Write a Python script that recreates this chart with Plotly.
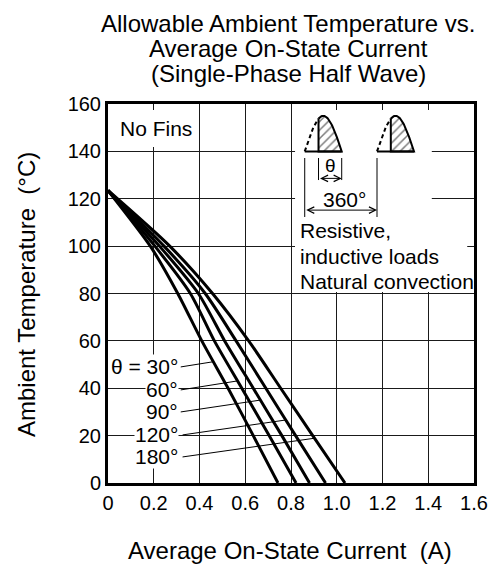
import numpy as np
import plotly.graph_objects as go

# ---------------- data ----------------
temps = [123.5, 100, 80, 60, 40, 20, 0]
current_30 = [0, 0.185, 0.305, 0.41, 0.525, 0.635, 0.743]
current_60 = [0, 0.205, 0.36, 0.465, 0.585, 0.705, 0.822]
current_90 = [0, 0.225, 0.395, 0.51, 0.635, 0.76, 0.881]
current_120 = [0, 0.245, 0.425, 0.56, 0.69, 0.82, 0.951]
current_180 = [0, 0.27, 0.457, 0.615, 0.755, 0.895, 1.036]
angle_labels = ["θ = 30°", "60°", "90°", "120°", "180°"]
label_temps = [49.0, 39.3, 30.0, 20.3, 11.0]
leader_temps = [51.2, 43.1, 35.0, 26.6, 18.9]
x_ticks = [0, 0.2, 0.4, 0.6, 0.8, 1.0, 1.2, 1.4, 1.6]
x_tick_text = ["0", "0.2", "0.4", "0.6", "0.8", "1.0", "1.2", "1.4", "1.6"]
y_ticks = [0, 20, 40, 60, 80, 100, 120, 140, 160]
y_tick_text = [str(v) for v in y_ticks]

series = [current_30, current_60, current_90, current_120, current_180]

FONT = "Liberation Sans, Arial, sans-serif"
fig = go.Figure()

for cur in series:
    fig.add_trace(go.Scatter(x=cur, y=temps, mode="lines",
                             line=dict(color="black", width=3, shape="spline", smoothing=0.7),
                             hoverinfo="skip", showlegend=False))

# ---------------- inset waveform schematic ----------------
base = 140
amp = 15
width = 0.1617
starts = [0.860, 1.176]
theta_frac = 0.373
for s in starts:
    ph_d = np.linspace(0, theta_frac * np.pi, 20)
    ph_s = np.linspace(theta_frac * np.pi, np.pi, 40)
    xd = s + ph_d / np.pi * width
    yd = base + amp * np.sin(ph_d)
    xs = s + ph_s / np.pi * width
    ys = base + amp * np.sin(ph_s)
    fig.add_trace(go.Scatter(x=list(xs) + [xs[-1], xs[0], xs[0]],
                             y=list(ys) + [base, base, ys[0]],
                             mode="lines", fill="toself",
                             fillcolor="white",
                             fillpattern=dict(shape="/", size=6, solidity=0.25,
                                              fgcolor="black", bgcolor="white"),
                             line=dict(color="black", width=2),
                             hoverinfo="skip", showlegend=False))
    fig.add_trace(go.Scatter(x=xd, y=yd, mode="lines",
                             line=dict(color="black", width=2, dash="4px,3px"),
                             hoverinfo="skip", showlegend=False))
    fig.add_trace(go.Scatter(x=[s, s + width], y=[base, base], mode="lines",
                             line=dict(color="black", width=2),
                             hoverinfo="skip", showlegend=False))

shapes = []
white_rects = [
    (0.8177, 1.4155, 80.6, 157.5),
    (0.8177, 1.5704, 80.6, 110.2),
    (0.008, 0.367, 141.8, 157.5),
]
for x0, x1, y0, y1 in white_rects:
    shapes.append(dict(type="rect", xref="x", yref="y", x0=x0, x1=x1, y0=y0, y1=y1,
                       fillcolor="white", line=dict(width=0), layer="between"))

th_x0 = starts[0] + theta_frac * width
th_x1 = starts[0] + width
for xv in [th_x0, th_x1]:
    shapes.append(dict(type="line", xref="x", yref="y", x0=xv, x1=xv, y0=127.9, y1=137.2,
                       line=dict(color="black", width=1)))
for xv in [starts[0], starts[1]]:
    shapes.append(dict(type="line", xref="x", yref="y", x0=xv, x1=xv, y0=112.3, y1=137.2,
                       line=dict(color="black", width=1)))

rev_t = temps[::-1]
for i, cur in enumerate(series):
    xe = float(np.interp(leader_temps[i], rev_t, cur[::-1]))
    shapes.append(dict(type="line", xref="x", yref="y", x0=0.318 if i < 3 else 0.326,
                       x1=xe, y0=label_temps[i], y1=leader_temps[i],
                       line=dict(color="black", width=1)))

annotations = []
for i, lab in enumerate(angle_labels):
    annotations.append(dict(x=0.3124, y=label_temps[i], xref="x", yref="y", text=lab,
                            showarrow=False, xanchor="right", yanchor="middle",
                            font=dict(family=FONT, size=21, color="black"),
                            bgcolor="white", borderpad=0))

annotations.append(dict(x=th_x1, y=128.6, ax=th_x0, ay=128.6, xref="x", yref="y",
                        axref="x", ayref="y", text="", showarrow=True, arrowhead=5,
                        arrowside="end+start", arrowsize=1.3, arrowwidth=1, arrowcolor="black"))
annotations.append(dict(x=starts[1], y=115.2, ax=starts[0], ay=115.2, xref="x", yref="y",
                        axref="x", ayref="y", text="", showarrow=True, arrowhead=5,
                        arrowside="end+start", arrowsize=1.3, arrowwidth=1, arrowcolor="black"))
annotations.append(dict(x=(th_x0 + th_x1) / 2, y=134.0, xref="x", yref="y", text="θ",
                        showarrow=False, font=dict(family=FONT, size=19, color="black")))
annotations.append(dict(x=1.034, y=119.5, xref="x", yref="y", text="360°",
                        showarrow=False, font=dict(family=FONT, size=21, color="black")))

for txt, yv in [("Resistive,", 106.8), ("inductive loads", 95.5), ("Natural convection", 85.0)]:
    annotations.append(dict(x=0.8317, y=yv, xref="x", yref="y", text=txt, showarrow=False,
                            xanchor="left", yanchor="middle",
                            font=dict(family=FONT, size=21, color="black")))
annotations.append(dict(x=0.0435, y=149.7, xref="x", yref="y", text="No Fins", showarrow=False,
                        xanchor="left", yanchor="middle",
                        font=dict(family=FONT, size=21, color="black")))

for txt, yv in [("Allowable Ambient Temperature vs.", 1.2129),
                ("Average On-State Current", 1.147),
                ("(Single-Phase Half Wave)", 1.081)]:
    annotations.append(dict(x=0.492, y=yv, xref="paper", yref="paper", text=txt,
                            showarrow=False, xanchor="center", yanchor="middle",
                            font=dict(family=FONT, size=24, color="black")))
annotations.append(dict(x=0.497, y=-0.177, xref="paper", yref="paper",
                        text="Average On-State Current\u00a0\u00a0(A)", showarrow=False,
                        xanchor="center", yanchor="middle",
                        font=dict(family=FONT, size=24, color="black")))
annotations.append(dict(x=-0.224, y=0.496, xref="paper", yref="paper",
                        text="Ambient Temperature\u00a0\u00a0(°C)", showarrow=False,
                        textangle=-90, xanchor="center", yanchor="middle",
                        font=dict(family=FONT, size=24, color="black")))

fig.update_layout(
    width=500, height=567,
    margin=dict(l=108, r=13, t=104, b=84),
    paper_bgcolor="white", plot_bgcolor="white",
    showlegend=False,
    shapes=shapes, annotations=annotations,
    font=dict(family=FONT, size=20, color="black"),
    xaxis=dict(range=[0, 1.6], tickvals=x_ticks, ticktext=x_tick_text, showgrid=True,
               gridcolor="#1a1a1a", gridwidth=1, showline=True, linecolor="black",
               linewidth=3, mirror=True, ticks="", zeroline=False,
               tickfont=dict(family=FONT, size=20, color="black"), fixedrange=True),
    yaxis=dict(range=[0, 160], tickvals=y_ticks, ticktext=y_tick_text, showgrid=True,
               gridcolor="#1a1a1a", gridwidth=1, showline=True, linecolor="black",
               linewidth=3, mirror=True, ticks="", zeroline=False,
               tickfont=dict(family=FONT, size=20, color="black"), fixedrange=True),
)

fig.write_html("out.html",
               config={"displayModeBar": False, "staticPlot": True},
               post_script="document.body.style.margin='0px';document.body.style.overflow='hidden';")
